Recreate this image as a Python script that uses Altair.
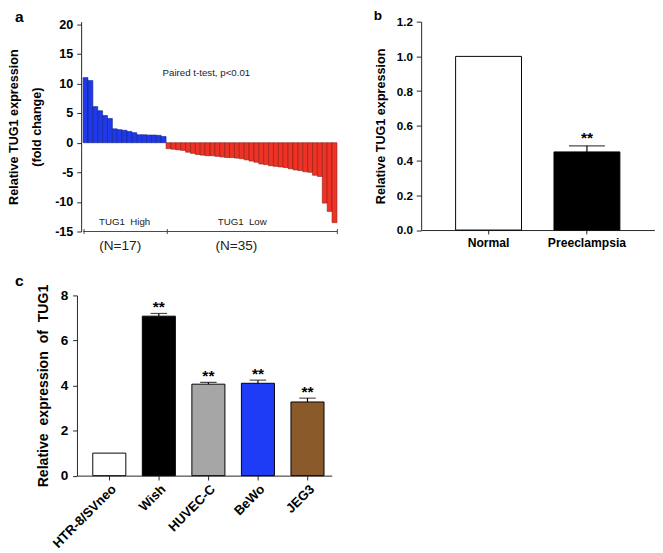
import altair as alt
import pandas as pd

FONT = "Liberation Sans"
NB = "\u00a0"

# ---------------- Panel a data ----------------
high_vals = [11.0, 10.5, 6.1, 5.4, 4.6, 4.1, 2.35, 2.2, 2.1, 1.9, 1.7,
             1.35, 1.35, 1.3, 1.3, 1.25, 1.05]
low_vals = [-1.0, -1.1, -1.2, -1.3, -1.6, -1.8, -2.0, -2.1, -2.2, -2.2,
            -2.3, -2.4, -2.5, -2.5, -2.6, -2.7, -2.9, -3.1, -3.3, -3.6,
            -3.7, -3.9, -4.0, -4.1, -4.2, -4.4, -4.6, -4.7, -4.9, -5.0,
            -5.5, -5.7, -10.2, -11.6, -13.5]
a_ticks = [-15, -10, -5, 0, 5, 10, 15, 20]
a_texts = ["TUG1" + NB + " High", "TUG1" + NB + " Low", "(N=17)", "(N=35)",
           "Paired t-test, p<0.01"]
a_text_x = [8.5, 32.6, 7.6, 31.4, 25.25]
a_text_y = [-13.44, -13.44, -17.5, -17.5, 11.83]
a_text_size = [10, 10, 14, 14, 10]
a_bracket_ticks = [0.2, 17.25, 52.08]

# ---------------- Panel b data ----------------
b_cats = ["Normal", "Preeclampsia"]
b_vals = [1.0, 0.45]
b_err = [None, 0.485]
b_colors = ["#ffffff", "#000000"]
b_ticks = [0.0, 0.2, 0.4, 0.6, 0.8, 1.0, 1.2]

# ---------------- Panel c data ----------------
c_cats = ["HTR-8/SVneo", "Wish", "HUVEC-C", "BeWo", "JEG3"]
c_vals = [1.0, 7.08, 4.06, 4.1, 3.27]
c_err = [None, 7.2, 4.14, 4.24, 3.44]
c_colors = ["#ffffff", "#000000", "#a6a6a6", "#1e3cf5", "#8b5a2b"]
c_ticks = [0, 2, 4, 6, 8]

AX = "#222222"


def yaxis(**kw):
    base = dict(labelFontWeight="bold", titleFontWeight="bold", labelOverlap=False,
                labelBound=False, labelFlush=False, grid=False)
    base.update(kw)
    return alt.Axis(**base)


def anchor(y):
    # invisible layout anchor that fixes the chart's outer top bound
    return alt.Chart(pd.DataFrame({"k": [0]})).mark_rule(opacity=0, strokeOpacity=0).encode(
        x=alt.value(100), y=alt.value(y), y2=alt.value(y + 1))


# ================= Panel a =================
n = len(high_vals) + len(low_vals)
a_df = pd.DataFrame({
    "i": list(range(n)),
    "i2": [k + 1 for k in range(n)],
    "v": high_vals + low_vals,
    "g": ["High"] * len(high_vals) + ["Low"] * len(low_vals),
})
xs_a = alt.Scale(domain=[-1.254, 52.08], nice=False, zero=False)
ys_a = alt.Scale(domain=[-15, 20.45], nice=False, zero=False)
a_yaxis = yaxis(values=a_ticks, title=["Relative TUG1 expression", "(fold change)"],
                titleLineHeight=23, titleFontSize=13, labelFontSize=13, tickSize=4.5,
                labelPadding=4, titlePadding=12, offset=-4.3,
                labelExpr="'' + datum.value")

a_bars = alt.Chart(a_df).mark_rect(strokeWidth=0.6).encode(
    x=alt.X("i:Q", scale=xs_a, axis=None),
    x2="i2:Q",
    y=alt.Y("v:Q", scale=ys_a, axis=a_yaxis),
    y2=alt.datum(0),
    fill=alt.Fill("g:N", scale=alt.Scale(domain=["High", "Low"],
                                         range=["#1f38ea", "#ee3326"]), legend=None),
    stroke=alt.Stroke("g:N", scale=alt.Scale(domain=["High", "Low"],
                                             range=["#10208a", "#8a1a12"]), legend=None),
)

a_line_df = pd.DataFrame({"i": [0.0], "i2": [52.08], "v": [-15]})
a_line = alt.Chart(a_line_df).mark_rule(color="#444", strokeWidth=1).encode(
    x=alt.X("i:Q", axis=None), x2="i2:Q", y=alt.Y("v:Q", axis=a_yaxis))

a_tick_df = pd.DataFrame({"i": a_bracket_ticks,
                          "v": [-15.42] * 3, "v2": [-14.58] * 3})
a_btick = alt.Chart(a_tick_df).mark_rule(color="#444", strokeWidth=1).encode(
    x=alt.X("i:Q", axis=None), y=alt.Y("v:Q", axis=a_yaxis), y2="v2:Q")

a_txt_df = pd.DataFrame({"i": a_text_x, "v": a_text_y, "t": a_texts, "fs": a_text_size})
a_txt = alt.Chart(a_txt_df).mark_text(baseline="middle", align="center", color="#222").encode(
    x=alt.X("i:Q", axis=None), y=alt.Y("v:Q", axis=a_yaxis), text="t:N",
    size=alt.Size("fs:Q", scale=None, legend=None))

a_lab = alt.Chart(pd.DataFrame({"t": ["a"]})).mark_text(
    align="left", baseline="alphabetic", fontSize=16, fontWeight="bold", color="black"
).encode(x=alt.value(-63.7), y=alt.value(0), text="t:N")

panel_a = alt.layer(a_bars, a_line, a_btick, a_txt, a_lab, anchor(-30)).properties(
    width=268, height=216)

# ================= Panel b =================
b_df = pd.DataFrame({"cat": b_cats, "v": b_vals, "err": b_err})
xs_b = alt.Scale(domain=b_cats, paddingInner=0.33, paddingOuter=0.35)
ys_b = alt.Scale(domain=[0, 1.2], nice=False, zero=True)
b_yaxis = yaxis(values=b_ticks, format=".1f", title="Relative TUG1 expression",
                titleFontSize=13, labelFontSize=12, tickSize=5, labelPadding=4,
                titlePadding=9)
b_xaxis = alt.Axis(title=None, labelAngle=0, labelFontSize=12.5, labelFontWeight="bold",
                   tickSize=4, labelPadding=3)

b_bars = alt.Chart(b_df).mark_bar(stroke="black", strokeWidth=1).encode(
    x=alt.X("cat:N", scale=xs_b, sort=b_cats, axis=b_xaxis),
    y=alt.Y("v:Q", scale=ys_b, axis=b_yaxis),
    fill=alt.Fill("cat:N", scale=alt.Scale(domain=b_cats, range=b_colors), legend=None),
)
b_err_df = b_df.dropna()
b_stem = alt.Chart(b_err_df).mark_rule(color="black", strokeWidth=1.2).encode(
    x=alt.X("cat:N", sort=b_cats, axis=b_xaxis), y=alt.Y("v:Q", axis=b_yaxis), y2="err:Q")
b_cap = alt.Chart(b_err_df).mark_tick(orient="horizontal", size=37, thickness=1.2,
                                     color="black").encode(
    x=alt.X("cat:N", sort=b_cats, axis=b_xaxis), y=alt.Y("err:Q", axis=b_yaxis))
b_star = alt.Chart(b_err_df).mark_text(text="**", dy=-3, baseline="alphabetic",
                                       fontSize=16, fontWeight="bold", color="black").encode(
    x=alt.X("cat:N", sort=b_cats, axis=b_xaxis), y=alt.Y("err:Q", axis=b_yaxis))
b_lab = alt.Chart(pd.DataFrame({"t": ["b"]})).mark_text(
    align="left", baseline="alphabetic", fontSize=14, fontWeight="bold", color="black"
).encode(x=alt.value(-48.7), y=alt.value(-2), text="t:N")

panel_b = alt.layer(b_bars, b_stem, b_cap, b_star, b_lab).properties(width=240, height=214.5)

# ================= Panel c =================
c_df = pd.DataFrame({"cat": c_cats, "v": c_vals, "err": c_err})
xs_c = alt.Scale(domain=c_cats, paddingInner=0.333, paddingOuter=0.238, align=0.67)
ys_c = alt.Scale(domain=[0, 8], nice=False, zero=True)
c_yaxis = yaxis(values=c_ticks,
                title="Relative" + NB + " expression" + NB + " of" + NB + " TUG1",
                titleFontSize=14.5, labelFontSize=14, tickSize=4.5, labelPadding=5,
                titlePadding=10)
c_xaxis = alt.Axis(title=None, labelAngle=315, labelAlign="right", labelBaseline="top",
                   labelFontSize=13.5, labelFontWeight="bold", tickSize=4.5, labelPadding=2)

c_bars = alt.Chart(c_df).mark_bar(stroke="black", strokeWidth=1).encode(
    x=alt.X("cat:N", scale=xs_c, sort=c_cats, axis=c_xaxis),
    y=alt.Y("v:Q", scale=ys_c, axis=c_yaxis),
    fill=alt.Fill("cat:N", scale=alt.Scale(domain=c_cats, range=c_colors), legend=None),
)
c_err_df = c_df.dropna()
c_stem = alt.Chart(c_err_df).mark_rule(color="black", strokeWidth=1.2).encode(
    x=alt.X("cat:N", sort=c_cats, axis=c_xaxis), y=alt.Y("v:Q", axis=c_yaxis), y2="err:Q")
c_cap = alt.Chart(c_err_df).mark_tick(orient="horizontal", size=17, thickness=1.2,
                                     color="black").encode(
    x=alt.X("cat:N", sort=c_cats, axis=c_xaxis), y=alt.Y("err:Q", axis=c_yaxis))
c_star = alt.Chart(c_err_df).mark_text(text="**", dy=-1, baseline="alphabetic",
                                       fontSize=16, fontWeight="bold", color="black").encode(
    x=alt.X("cat:N", sort=c_cats, axis=c_xaxis), y=alt.Y("err:Q", axis=c_yaxis))
c_lab = alt.Chart(pd.DataFrame({"t": ["c"]})).mark_text(
    align="left", baseline="alphabetic", fontSize=16, fontWeight="bold", color="black"
).encode(x=alt.value(-63.7), y=alt.value(-10), text="t:N")

panel_c = alt.layer(c_bars, c_stem, c_cap, c_star, c_lab).properties(
    width=262.3, height=185.5)

chart = alt.concat(
    panel_a, panel_b, panel_c, columns=2,
    spacing={"row": 65.8, "column": 86.3}, align="each", bounds="flush",
).resolve_scale(fill="independent", stroke="independent").properties(
    padding={"left": 0, "top": -24, "right": 0, "bottom": 0}
).configure_view(stroke=None).configure_axis(
    labelFont=FONT, titleFont=FONT, domainColor=AX, tickColor=AX,
    labelColor="black", titleColor="black", grid=False, labelOverlap=False,
).configure_text(font=FONT)

chart.save("out.html", embed_options={"renderer": "svg", "actions": False})
